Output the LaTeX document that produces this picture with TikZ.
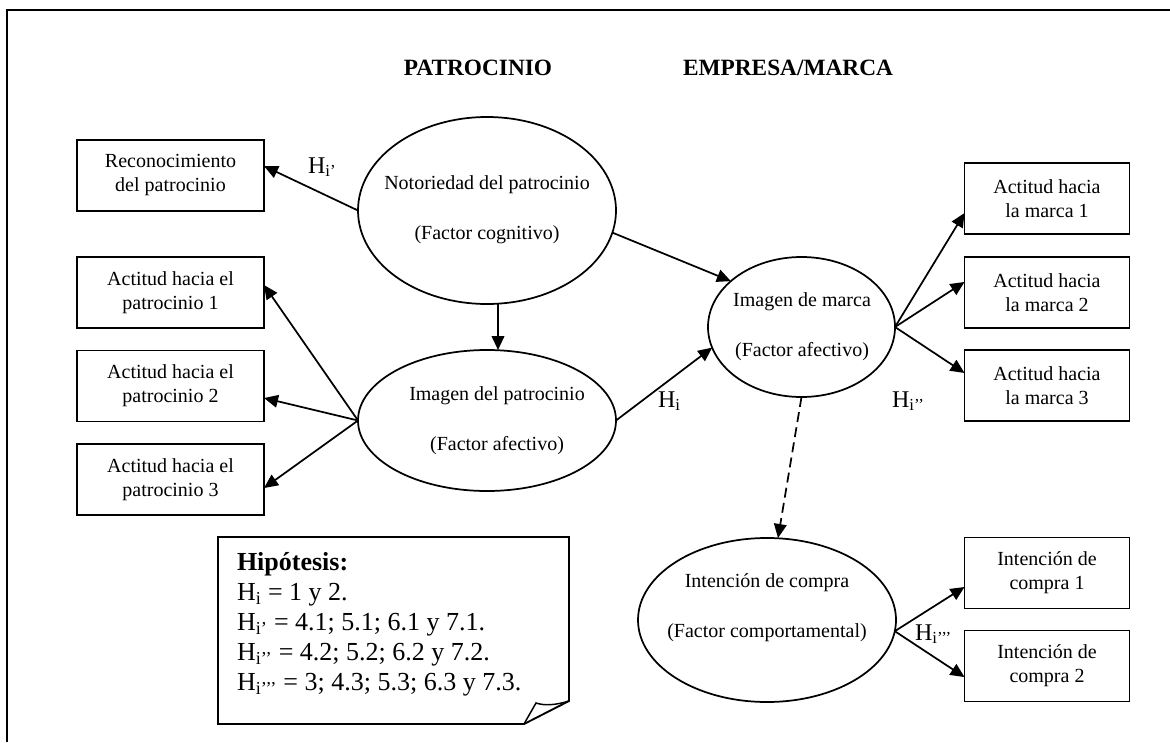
\documentclass[tikz,border=0pt]{standalone}
\usepackage{fontspec}
\setmainfont{Liberation Serif}
\usetikzlibrary{arrows.meta,shapes.geometric}

\begin{document}
\begin{tikzpicture}[x=0.75pt,y=-0.75pt,
  every node/.style={inner sep=0pt, outer sep=0pt},
  box/.style={draw, line width=1.4pt, rectangle, minimum height=53.25pt,
    align=center, font=\fontsize{15}{18}\selectfont},
  lbox/.style={box, minimum width=140.25pt},
  rbox/.style={box, minimum width=123.75pt},
  latent/.style={draw, ellipse, line width=1.3pt},
  ltext/.style={align=center, font=\fontsize{15}{37.5}\selectfont},
  hyp/.style={anchor=base west, font=\fontsize{18}{18}\selectfont},
  head/.style={anchor=base, font=\fontsize{17.5}{20}\selectfont\bfseries},
  link/.style={-{Triangle[length=10.5pt,width=9.5pt]}, line width=1.3pt},
  dashlink/.style={link, dash pattern=on 7.5pt off 4pt},
]
\useasboundingbox (0,0) rectangle (1170,742);

% outer frame (top and left sides)
\draw[line width=1.6pt] (7,742) -- (7,10) -- (1170,10);

% column headings
\node[head] (tpat) at (478,75) {PATROCINIO};
\node[head] (temp) at (788,75) {EMPRESA/MARCA};

% latent constructs
\node[latent, minimum width=193.5pt, minimum height=140.25pt] (noto) at (487,210.5) {};
\node[latent, minimum width=193.5pt, minimum height=105.75pt] (imp) at (487,420.5) {};
\node[latent, minimum width=140.25pt, minimum height=105pt] (imm) at (801.5,327) {};
\node[latent, minimum width=193.5pt, minimum height=123pt] (int) at (767,620) {};

\node[ltext] (noto-t) at (487,210) {Notoriedad del patrocinio\\(Factor cognitivo)};
\node[ltext] (imp-t) at (497,420.5) {Imagen del patrocinio\\(Factor afectivo)};
\node[ltext] (imm-t) at (802,327) {Imagen de marca\\(Factor afectivo)};
\node[ltext] (int-t) at (767,607.5) {Intención de compra\\(Factor comportamental)};

% indicators, sponsorship side
\node[lbox] (rec) at (170.5,175.5) {Reconocimiento\\del patrocinio};
\node[lbox] (a1) at (170.5,292.5) {Actitud hacia el\\patrocinio 1};
\node[lbox] (a2) at (170.5,386) {Actitud hacia el\\patrocinio 2};
\node[lbox] (a3) at (170.5,479.5) {Actitud hacia el\\patrocinio 3};

% indicators, brand side
\node[rbox] (m1) at (1047,198.5) {Actitud hacia\\la marca 1};
\node[rbox] (m2) at (1047,292.5) {Actitud hacia\\la marca 2};
\node[rbox] (m3) at (1047,385.5) {Actitud hacia\\la marca 3};
\node[rbox] (i1) at (1047,573) {Intención de\\compra 1};
\node[rbox] (i2) at (1047,666) {Intención de\\compra 2};

% paths
\draw[link] (noto.west) -- ([yshift=7.1pt]rec.east);
\draw[link] (imp.west) -- ([yshift=5.6pt]a1.east);
\draw[link] (imp.west) -- ([yshift=-9pt]a2.east);
\draw[link] (imp.west) -- ([yshift=-6.4pt]a3.east);
\draw[link] ([xshift=8.25pt]noto.south) -- ([xshift=8.25pt]imp.north);
\draw[link] (noto.-10) -- (imm.147.5);
\draw[link] (imp.east) -- (imm.193);
\draw[link] (imm.east) -- ([yshift=-10.9pt]m1.west);
\draw[link] (imm.east) -- ([yshift=7.9pt]m2.west);
\draw[link] (imm.east) -- ([yshift=9.4pt]m3.west);
\draw[dashlink] (imm.south) -- ([xshift=8.25pt]int.north);
\draw[link] (int.-5) -- ([yshift=-10.5pt]i1.west);
\draw[link] (int.-5) -- ([yshift=-8.3pt]i2.west);

% hypothesis labels
\node[hyp] (h1) at (308,173) {H\textsubscript{i’}};
\node[hyp] (h0) at (658,407) {H\textsubscript{i}};
\node[hyp] (h2) at (892,407) {H\textsubscript{i’’}};
\node[hyp] (h3) at (915,640) {H\textsubscript{i’’’}};

% note with folded corner
\draw[line width=1.4pt] (218,537) -- (569,537) -- (569,701) -- (524,724) -- (218,724) -- cycle;
\draw[line width=1.1pt] (524,724) -- (536,703) .. controls (545,706) and (556,705) .. (569,701);
\node[anchor=north west, align=left, font=\fontsize{19.5}{22.5}\selectfont] (notetxt) at (237,552)
  {\textbf{Hipótesis:}\\
   H\textsubscript{i} = 1 y 2.\\
   H\textsubscript{i’} = 4.1; 5.1; 6.1 y 7.1.\\
   H\textsubscript{i’’} = 4.2; 5.2; 6.2 y 7.2.\\
   H\textsubscript{i’’’} = 3; 4.3; 5.3; 6.3 y 7.3.};
\end{tikzpicture}
\end{document}
